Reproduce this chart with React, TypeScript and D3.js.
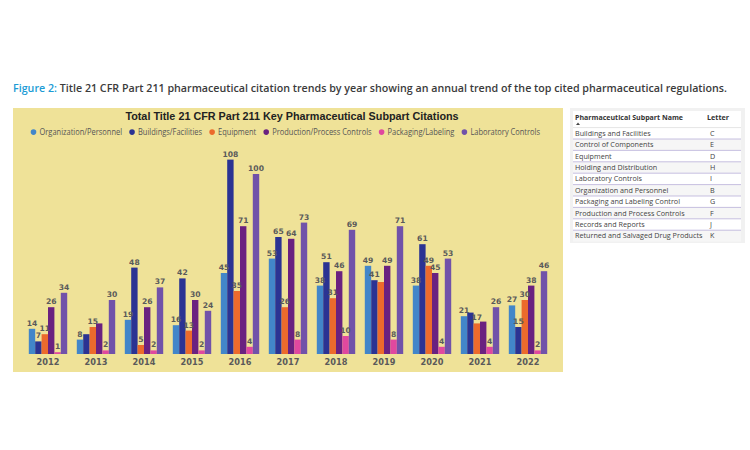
import * as d3 from "d3";

const years = ["2012", "2013", "2014", "2015", "2016", "2017", "2018", "2019", "2020", "2021", "2022"];

const seriesNames = [
  "Organization/Personnel",
  "Buildings/Facilities",
  "Equipment",
  "Production/Process Controls",
  "Packaging/Labeling",
  "Laboratory Controls",
];

const orgPersonnel = [14, 8, 19, 16, 45, 53, 38, 49, 38, 21, 27];
const buildingsFacilities = [7, 11, 48, 42, 108, 65, 51, 41, 61, 23, 15];
const equipment = [11, 15, 5, 13, 35, 26, 31, 40, 49, 17, 30];
const productionControls = [26, 17, 26, 30, 71, 64, 46, 49, 45, 18, 38];
const packagingLabeling = [1, 2, 2, 2, 4, 8, 10, 8, 4, 4, 2];
const laboratoryControls = [34, 30, 37, 24, 100, 73, 69, 71, 53, 26, 46];

// labels the original chart drops where they would collide
const hiddenLabels = ["2013|Buildings/Facilities", "2013|Production/Process Controls", "2019|Equipment", "2021|Buildings/Facilities", "2021|Production/Process Controls"];

const tableNames = [
  "Buildings and Facilities",
  "Control of Components",
  "Equipment",
  "Holding and Distribution",
  "Laboratory Controls",
  "Organization and Personnel",
  "Packaging and Labeling Control",
  "Production and Process Controls",
  "Records and Reports",
  "Returned and Salvaged Drug Products",
];
const tableLetters = ["C", "E", "D", "H", "I", "B", "G", "F", "J", "K"];

const colors = ["#4286c9", "#2b3393", "#ec6a2c", "#6a2180", "#e0489f", "#7152a9"];

const allSeries = [orgPersonnel, buildingsFacilities, equipment, productionControls, packagingLabeling, laboratoryControls];

function measure(texts: string[], font: string) {
  const ctx = document.createElement("canvas").getContext("2d");
  if (!ctx) return texts.map(t => t.length * 5);
  ctx.font = font;
  return texts.map(t => ctx.measureText(t).width);
}

export default function App() {
  const width = 750;
  const height = 450;

  const x = d3.scaleBand().domain(years).range([24, 552]).paddingInner(0.2).paddingOuter(0.1);
  const xs = d3.scaleBand().domain(seriesNames).range([0, x.bandwidth()]);
  const y = d3.scaleLinear().domain([0, 120]).range([354, 138]);
  const color = d3.scaleOrdinal<string, string>().domain(seriesNames).range(colors);

  const bars = years.flatMap((yr, i) =>
    seriesNames.map((s, j) => ({ year: yr, series: s, value: allSeries[j][i] }))
  );

  /* legend: squeeze the items between 32 and 540 */
  const legendFont = 8.4;
  const dotGap = 4.5;
  const itemGap = 8.5;
  const raw = measure(seriesNames, `${legendFont}px 'Open Sans'`);
  const textTarget = 508 - 3 * seriesNames.length - seriesNames.length * dotGap - (seriesNames.length - 1) * itemGap;
  const k = textTarget / d3.sum(raw);
  let lx = 32;
  const legendItems = seriesNames.map((s, i) => {
    const item = { name: s, x: lx, w: raw[i] * k };
    lx += 3 + dotGap + raw[i] * k + itemGap;
    return item;
  });

  const rowY = d3.scaleLinear().domain([0, 1]).range([133.3, 144.7]);

  return (
    <svg width={width} height={height} style={{ position: "absolute", left: 0, top: 0, background: "#fff" }}>
      {/* caption */}
      <text x={13} y={92} fontFamily="Open Sans" fontWeight={600} fontSize={11} fill="#3b3b3b" textLength={714} lengthAdjust="spacingAndGlyphs">
        <tspan fill="#1b9bd5">Figure 2:</tspan> Title 21 CFR Part 211 pharmaceutical citation trends by year showing an annual trend of the top cited pharmaceutical regulations.
      </text>

      {/* chart panel */}
      <rect x={13} y={108} width={550} height={264} fill="#efe298" />
      <text x={292} y={120} textAnchor="middle" fontFamily="Liberation Sans" fontWeight="bold" fontSize={10.8} fill="#222">
        Total Title 21 CFR Part 211 Key Pharmaceutical Subpart Citations
      </text>

      <g fontFamily="Open Sans" fontSize={legendFont} fill="#555">
        {legendItems.map(d => (
          <g key={d.name} transform={`translate(${d.x},135)`}>
            <circle cx={1.5} cy={-2.9} r={2.8} fill={color(d.name)} />
            <text x={3 + dotGap} y={0} textLength={d.w} lengthAdjust="spacingAndGlyphs">{d.name}</text>
          </g>
        ))}
      </g>

      <g>
        {bars.map(d => (
          <rect
            key={d.year + d.series}
            x={x(d.year)! + xs(d.series)!}
            y={y(d.value)}
            width={xs.bandwidth()}
            height={y(0) - y(d.value)}
            fill={color(d.series)}
          />
        ))}
      </g>

      <g fontFamily="DejaVu Sans" fontWeight="bold" fontSize={7.6} fill="#5a5a5a" textAnchor="middle">
        {bars
          .filter(d => !hiddenLabels.includes(d.year + "|" + d.series))
          .map(d => (
            <text key={"l" + d.year + d.series} x={x(d.year)! + xs(d.series)! + xs.bandwidth() / 2} y={y(d.value) - 3}>
              {d.value}
            </text>
          ))}
      </g>

      <g fontFamily="DejaVu Sans" fontWeight="bold" fontSize={8.2} fill="#5a5a5a" textAnchor="middle">
        {years.map(yr => (
          <text key={yr} x={x(yr)! + x.bandwidth() / 2} y={365}>
            {yr}
          </text>
        ))}
      </g>

      {/* reference table */}
      <rect x={570} y={108} width={175} height={135} fill="#f1f1f1" />
      <rect x={573} y={111} width={168} height={129} fill="#fff" />
      <g fontFamily="Open Sans" fontSize={7.2} fill="#333">
        <text x={575} y={119.5} fontWeight="bold" textLength={108} lengthAdjust="spacingAndGlyphs">Pharmaceutical Subpart Name</text>
        <text x={707} y={119.5} fontWeight="bold">Letter</text>
        <path d="M576,125 L578,122.5 L580,125 Z" fill="#444" />
        {tableNames.map((n, i) => (
          <g key={n}>
            <rect x={573} y={rowY(i) - 5.7} width={168} height={11.4} fill={i % 2 ? "#f6f6f6" : "#fff"} />
            <line x1={573} x2={741} y1={rowY(i) - 5.7} y2={rowY(i) - 5.7} stroke={i === 0 ? "#ddd" : "#b9b0d9"} strokeWidth={0.8} />
            <text x={575} y={rowY(i) + 2.5} fill="#444">{n}</text>
            <text x={710} y={rowY(i) + 2.5} fill="#444">{tableLetters[i]}</text>
          </g>
        ))}
      </g>
    </svg>
  );
}
